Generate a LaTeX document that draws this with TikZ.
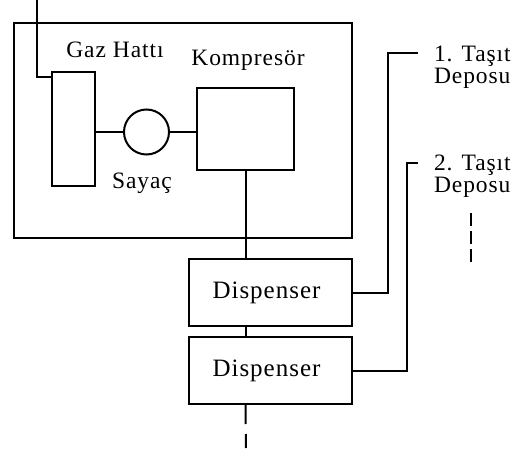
\documentclass[tikz,border=0pt]{standalone}
\usepackage{fontspec}
\setmainfont{Liberation Serif}
\newfontfamily\labfont[LetterSpace=4]{Liberation Serif}
\usetikzlibrary{positioning,calc}

\begin{document}
\begin{tikzpicture}[x=1pt,y=-1pt,line width=2pt,
 blk/.style={draw,rectangle,inner sep=0pt},
 meter/.style={draw,circle,inner sep=0pt,minimum size=45pt},
 lab/.style={inner sep=0pt,anchor=base,font=\labfont\fontsize{23.5}{22}\selectfont},
 dlab/.style={inner sep=0pt,align=left,anchor=west,font=\labfont\fontsize{23.5}{22}\selectfont},
 more/.style={dash pattern=on 13pt off 5pt}]
\useasboundingbox (0,0) rectangle (517,450);
% station frame
\node[blk,minimum width=338pt,minimum height=215pt] (station) at (183,130.5) {};
\node[blk,minimum width=43pt,minimum height=114pt] (gaz) at (73.5,129) {};
\node[meter] (sayac) at (146.5,132) {};
\node[blk,minimum width=97pt,minimum height=82pt] (komp) at (245.5,129) {};
\node[lab] (gazlab) at (115,57) {Gaz Hattı};
\node[lab] (komplab) at (248,65) {Kompresör};
\node[lab] (sayaclab) at (142,188) {Sayaç};
% dispensers
\node[blk,minimum width=163pt,minimum height=67pt,font=\labfont\fontsize{25}{24}\selectfont] (disp1) at (270.5,292.5) {Dispenser\hspace*{8pt}};
\node[blk,minimum width=163pt,minimum height=67pt,font=\labfont\fontsize{25}{24}\selectfont] (disp2) at (270.5,370.5) {Dispenser\hspace*{8pt}};
% vehicle tanks
\node[dlab] (tank1) at (433,67) {1. Taşıt\\Deposu};
\node[dlab] (tank2) at (433,176) {2. Taşıt\\Deposu};
\coordinate (gasin) at (37,0);
\coordinate (moretanks) at (471,213);
\coordinate (moredisp) at (246,448);
% piping
\draw (gasin) |- ($(gaz.north west)+(0,6)$);
\draw (gaz.east |- sayac) -- (sayac.west);
\draw (sayac.east) -- (komp.west |- sayac);
\draw (komp.south) -- (komp.south |- disp1.north);
\draw (disp1.south -| komp.south) -- (disp2.north -| komp.south);
\draw (disp1.east) -| ($(tank1.west |- 0,53)+(-45,0)$) -- ($(tank1.west |- 0,53)+(-15,0)$);
\draw (disp2.east) -| ($(tank2.west |- 0,163)+(-26,0)$) -- ($(tank2.west |- 0,163)+(-15,0)$);
\draw[dash pattern=on 19pt off 10pt] (disp2.south -| komp.south) -- (moredisp);
\draw[more] (moretanks) -- ++(0,49);
\end{tikzpicture}
\end{document}
